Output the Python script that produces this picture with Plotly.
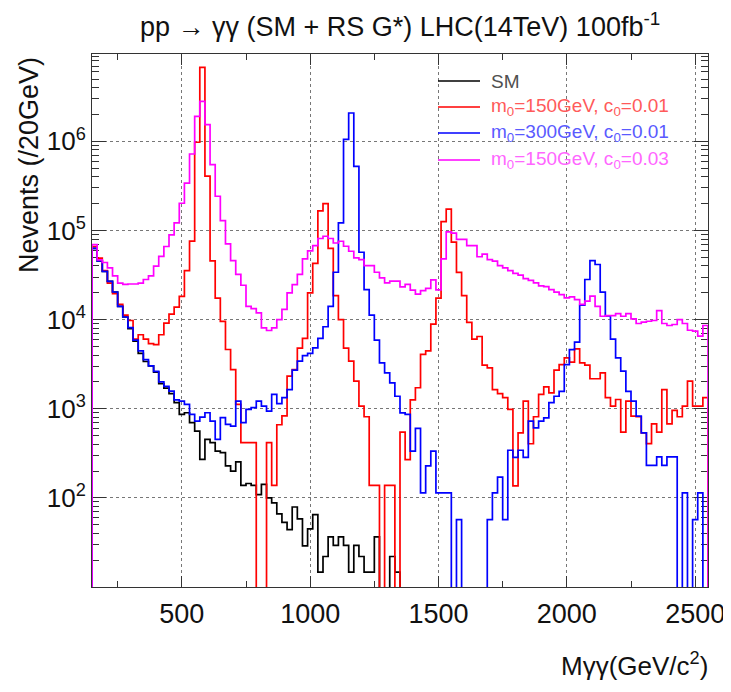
import plotly.graph_objects as go

# ---------------- data (Nevents per 20 GeV bin, 150-2550 GeV) ----------------
x_min, x_max, bin_width = 150, 2550, 20

sm_counts = [
    63100, 45700, 34700, 26900, 20400, 14100, 10700, 7940, 5750, 4170,
    3390, 3020, 2570, 1910, 1700, 1480, 1170, 863, 902, 697,
    561, 270, 453, 416, 335, 321, 228, 200, 254, 138,
    145, 138, 109, 142, 100, 88, 66, 53, 44, 79,
    58, 29, 45, 65, 14.7, 22, 36.6, 29.3, 36.6, 29.3,
    14.7, 29.3, 22, 14.7, 14.7, 36.6, 0, 0, 22, 14.7,
    0, 0, 0, 0, 0, 0, 0, 0, 0, 0,
    0, 0, 0, 0, 0, 0, 0, 0, 0, 0,
    0, 0, 0, 0, 0, 0, 0, 0, 0, 0,
    0, 0, 0, 0, 0, 0, 0, 0, 0, 0,
    0, 0, 0, 0, 0, 0, 0, 0, 0, 0,
    0, 0, 0, 0, 0, 0, 0, 0, 0, 0,
]

red_counts = [
    66100, 49000, 35500, 25700, 19500, 14800, 11200, 9770, 6030, 6760,
    6030, 5370, 5250, 6760, 9120, 11500, 13800, 18200, 35500, 75900,
    977000, 6760000, 407000, 45700, 17400, 9550, 4620, 2750, 1120, 417,
    417, 417, 0, 0, 417, 138, 661, 832, 2320, 2750,
    4790, 6170, 20000, 42700, 166000, 200000, 63100, 18600, 10000, 4790,
    3420, 2040, 1070, 813, 138, 138, 0, 138, 138, 0,
    547, 269, 1260, 1720, 4070, 4470, 8910, 17400, 126000, 174000,
    74100, 33900, 18600, 9330, 6030, 6460, 3090, 2880, 1640, 1480,
    1330, 982, 136, 537, 1220, 405, 813, 1450, 1760, 1510,
    2710, 3130, 3720, 3330, 4700, 3270, 3080, 2170, 2170, 2530,
    1330, 1070, 1270, 547, 1220, 826, 813, 537, 407, 678,
    547, 1640, 678, 957, 813, 1070, 2040, 1070, 1070, 1330,
]

blue_counts = [
    63100, 45700, 34700, 26900, 20400, 14100, 10700, 8130, 5890, 4470,
    3550, 3020, 2630, 2000, 1780, 1580, 1260, 1220, 1120, 863,
    726, 805, 902, 726, 453, 793, 667, 638, 1220, 697,
    982, 1030, 1220, 1070, 940, 1450, 1140, 1330, 1640, 2710,
    3420, 3950, 4170, 4820, 6170, 8320, 14100, 34000, 122000, 1050000,
    2080000, 525000, 57000, 21700, 11200, 5890, 3270, 2530, 1950, 1380,
    899, 863, 335, 603, 114, 228, 335, 114, 114, 114,
    0, 57, 0, 0, 0, 0, 0, 57, 114, 171,
    57, 342, 285, 342, 285, 726, 611, 726, 791, 1170,
    1380, 1570, 3130, 4610, 5580, 14500, 28200, 46000, 41500, 20300,
    11000, 6030, 3720, 2640, 1570, 1220, 826, 537, 231, 231,
    289, 231, 289, 289, 0, 114, 0, 57, 114, 0,
]

magenta_counts = [
    69500, 46800, 43700, 38000, 30900, 25700, 24800, 25100, 25100, 25700,
    28200, 30900, 39800, 51300, 66100, 89100, 122000, 202000, 339000, 721000,
    1910000, 2810000, 1540000, 548000, 242000, 129000, 70800, 46000, 32100, 24300,
    14100, 13300, 11900, 8090, 7550, 8090, 10000, 13000, 20000, 24700,
    32100, 47900, 58900, 67600, 81300, 86100, 81300, 72400, 75700, 66500,
    58500, 49200, 47200, 40400, 40400, 34000, 29400, 25800, 27000, 27000,
    23300, 24800, 21400, 19300, 21100, 22400, 27900, 21600, 47900, 96600,
    93300, 79400, 79400, 67600, 67600, 50700, 54300, 47200, 45200, 40400,
    38000, 35500, 33100, 31600, 28800, 27500, 25800, 23900, 23400, 21700,
    20300, 19100, 17500, 18000, 16800, 14800, 16100, 18300, 14100, 10900,
    11100, 11100, 11700, 10900, 11700, 10200, 9040, 9350, 9590, 9770,
    12600, 9040, 8590, 8810, 10000, 9040, 7600, 7410, 6520, 8590,
]

series_names = [
    "SM",
    "m<sub>0</sub>=150GeV, c<sub>0</sub>=0.01",
    "m<sub>0</sub>=300GeV, c<sub>0</sub>=0.01",
    "m<sub>0</sub>=150GeV, c<sub>0</sub>=0.03",
]
series_values = [sm_counts, red_counts, blue_counts, magenta_counts]
line_colors = ["#000000", "#ff0000", "#0000ff", "#ff00ff"]
label_colors = ["#505050", "#ff5a5a", "#5a5aff", "#ff66ff"]

x_tick_values = [500, 1000, 1500, 2000, 2500]
x_minor_values = [250, 750, 1250, 1750, 2250]
y_decades = [2, 3, 4, 5, 6]

# ---------------- figure ----------------
# the page body has an 8px default margin; the figure is sized to fit the window
OFF = 8
W, H = 731 - OFF, 692 - OFF
ML, MT = 92 - OFF, 54 - OFF
PW, PH = 616, 533
MR, MB = W - ML - PW, H - MT - PH


def px(x_screen):
    return (x_screen - OFF - ML) / PW


def py(y_screen):
    return (H - MB - (y_screen - OFF)) / PH


FONT = "Liberation Sans, Arial, Helvetica, sans-serif"
FLOOR = 2.0  # empty bins: drawn below the axis range (log scale)
edges = list(range(x_min, x_max + 1, bin_width))

fig = go.Figure()
for name, counts, color in zip(series_names, series_values, line_colors):
    v = [c if c > 0 else FLOOR for c in counts]
    xs = [edges[0]] + edges[:-1] + [edges[-1], edges[-1]]
    ys = [FLOOR] + v + [v[-1], FLOOR]
    fig.add_trace(go.Scatter(
        x=xs, y=ys, mode="lines", name=name, showlegend=False,
        line=dict(color=color, width=1.7, shape="hv"), hoverinfo="skip",
    ))

y_minor = [d * 10 ** e for e in range(1, 7) for d in range(2, 10)]

fig.update_layout(
    width=W, height=H,
    margin=dict(l=ML, r=MR, t=MT, b=MB, autoexpand=False),
    paper_bgcolor="white", plot_bgcolor="white",
    font=dict(family=FONT, color="#111111"),
    showlegend=False,
    xaxis=dict(
        range=[x_min, x_max], showline=True, linecolor="#333333", linewidth=1,
        mirror="allticks", ticks="inside", ticklen=11, tickcolor="#333333",
        tickvals=x_tick_values, ticktext=[str(t) for t in x_tick_values],
        tickfont=dict(size=27, family=FONT, color="#111111"),
        showgrid=True, gridcolor="#777777", griddash="dot", gridwidth=1,
        zeroline=False, layer="below traces", ticklabelstandoff=3,
        automargin=False,
        minor=dict(tickvals=x_minor_values, ticks="inside", ticklen=6,
                   tickcolor="#333333", showgrid=False),
    ),
    yaxis=dict(
        type="log", range=[1.0, 6.98], showline=True, linecolor="#333333",
        linewidth=1, mirror="allticks", ticks="inside", ticklen=14,
        tickcolor="#333333",
        tickvals=[10 ** d for d in y_decades],
        ticktext=["10<sup>%d</sup>" % d for d in y_decades],
        tickfont=dict(size=26, family=FONT, color="#111111"),
        showgrid=True, gridcolor="#777777", griddash="dot", gridwidth=1,
        zeroline=False, layer="below traces", automargin=False,
        minor=dict(tickvals=y_minor, ticks="inside", ticklen=7,
                   tickcolor="#333333", showgrid=False),
    ),
)

annotations = [
    dict(text="pp \u2192 \u03b3\u03b3 (SM + RS G*) LHC(14TeV) 100fb<sup>-1</sup>",
         x=px(400), y=py(25), xref="paper", yref="paper",
         xanchor="center", yanchor="middle", showarrow=False,
         font=dict(size=27, family=FONT, color="#111111")),
    dict(text="M\u03b3\u03b3(GeV/c<sup>2</sup>)",
         x=px(710), y=py(664), xref="paper", yref="paper",
         xanchor="right", yanchor="middle", showarrow=False,
         font=dict(size=26, family=FONT, color="#111111")),
    dict(text="Nevents (/20GeV)", textangle=-90,
         x=px(29), y=py(55), xref="paper", yref="paper",
         xanchor="center", yanchor="top", showarrow=False,
         font=dict(size=27, family=FONT, color="#111111")),
]

shapes = []
legend_rows = [81, 107, 133, 160]
for name, lc, tc, ry in zip(series_names, line_colors, label_colors, legend_rows):
    shapes.append(dict(type="line", xref="paper", yref="paper",
                       x0=px(438), x1=px(480), y0=py(ry), y1=py(ry),
                       line=dict(color=lc, width=1.5)))
    annotations.append(dict(text=name, x=px(489), y=py(ry), xref="paper",
                            yref="paper", xanchor="left", yanchor="middle",
                            showarrow=False,
                            font=dict(size=19, family=FONT, color=tc)))

fig.update_layout(annotations=annotations, shapes=shapes)
fig.write_html("out.html")
